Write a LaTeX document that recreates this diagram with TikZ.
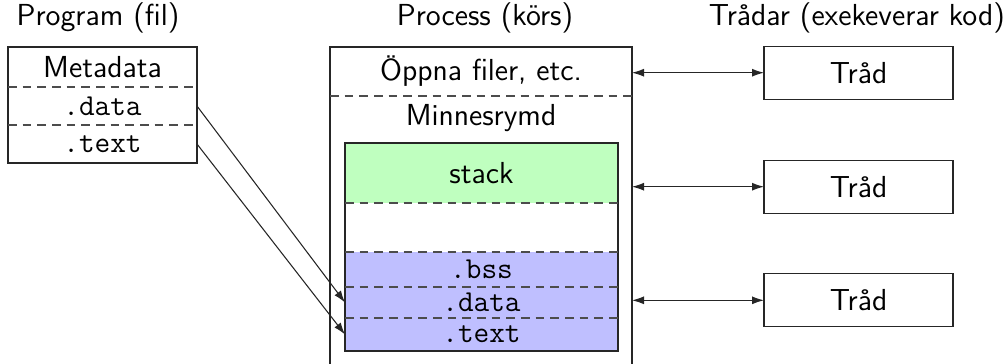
\documentclass[tikz,border=0pt]{standalone}
\usetikzlibrary{arrows.meta}
\begin{document}
\begin{tikzpicture}[x=0.375pt,y=-0.375pt,
  txt/.style={font=\sffamily\fontsize{11.4}{13.5}\selectfont},
  cell/.style={txt, inner sep=0pt, outer sep=0pt, minimum width={#1*0.375pt}},
  tall/.style={minimum height={#1*0.375pt}},
  box/.style={draw=black!85, line width=0.4pt},
  sep/.style={draw=black!70, line width=0.4pt, dash pattern=on 3.3pt off 2.2pt},
  tt/.style={font=\ttfamily\fontsize{11.4}{13.5}\selectfont},
  link/.style={draw=black!85, line width=0.4pt, -{Latex[length=4.5pt,width=3pt]}},
  both/.style={draw=black!85, line width=0.4pt, {Latex[length=4.5pt,width=3pt]}-{Latex[length=4.5pt,width=3pt]}},
]
\useasboundingbox (0,0) rectangle (1006,363);
\clip (0,0) rectangle (1006,363);

% column headings
\node[txt] (hprog) at (98,18) {Program (fil)};
\node[txt] (hproc) at (485,18) {Process (körs)};
\node[txt] (hthr) at (857,18) {Trådar (exekeverar kod)};

% program file
\node[cell=189, tall=40] (meta) at (102.5,67) {Metadata};
\node[cell=189, tall=38, tt] (pdata) at (102.5,106) {.data};
\node[cell=189, tall=38, tt] (ptext) at (102.5,144) {.text};
\draw[box] (meta.north west) rectangle (ptext.south east);
\draw[sep] (meta.south west) -- (meta.south east);
\draw[sep] (pdata.south west) -- (pdata.south east);

% running process
\node[cell=302, tall=343, box, anchor=north] (proc) at (481,47) {};
\node[cell=302, tall=49] (open) at (481,71.5) {Öppna filer, etc.};
\draw[sep] (open.south west) -- (open.south east);
\node[txt] (mem) at (481,118) {Minnesrymd};

% address space
\node[cell=273, tall=60, fill=green!25] (stack) at (481.5,173) {stack};
\node[cell=273, tall=49] (gap) at (481.5,227.5) {};
\node[cell=273, tall=35, fill=blue!25, tt] (bss) at (481.5,269.5) {.bss};
\node[cell=273, tall=31, fill=blue!25, tt] (mdata) at (481.5,302.5) {.data};
\node[cell=273, tall=33, fill=blue!25, tt] (mtext) at (481.5,334.5) {.text};
\draw[box] (stack.north west) rectangle (mtext.south east);
\foreach \c in {stack,gap,bss,mdata}
  \draw[sep] (\c.south west) -- (\c.south east);

% threads
\node[cell=189, tall=53, box] (t1) at (858.5,72.7) {Tråd};
\node[cell=189, tall=53, box] (t2) at (858.5,186.7) {Tråd};
\node[cell=189, tall=53, box] (t3) at (858.5,300.3) {Tråd};
\foreach \t in {t1,t2,t3}
  \draw[both] (\t.west -| proc.east) -- (\t.west);

% sections loaded from the file
\draw[link] (pdata.east) -- (mdata.west);
\draw[link] (ptext.east) -- (mtext.west);
\end{tikzpicture}
\end{document}
